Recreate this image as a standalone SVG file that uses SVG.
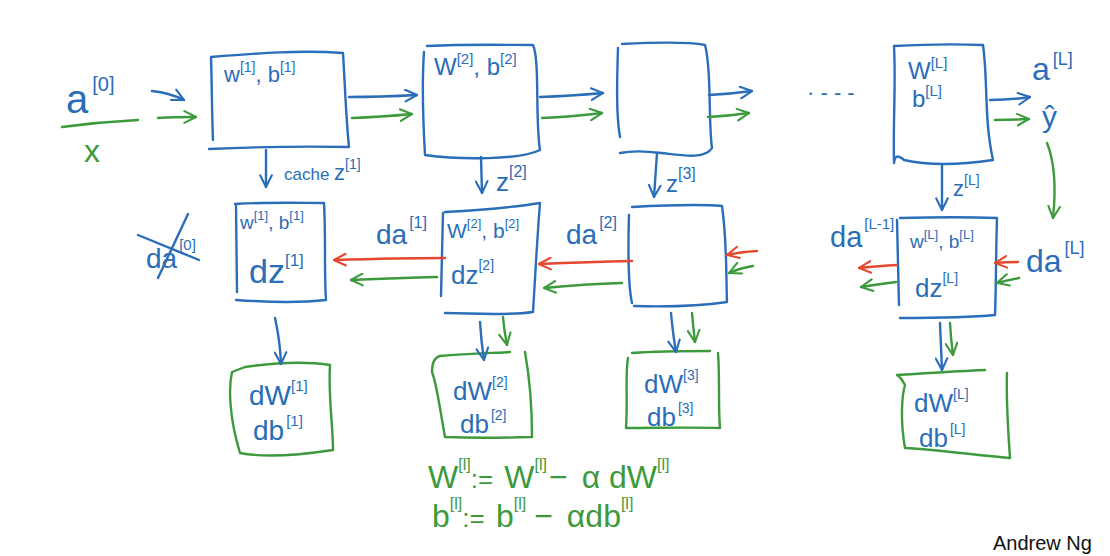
<svg xmlns="http://www.w3.org/2000/svg" width="1110" height="556" viewBox="0 0 1110 556">
<style>
.b{fill:none;stroke:#2a6db8;stroke-width:2.4;stroke-linecap:round;stroke-linejoin:round}
.g{fill:none;stroke:#3c9a3c;stroke-width:2.4;stroke-linecap:round;stroke-linejoin:round}
.r{fill:none;stroke:#e5482e;stroke-width:2.4;stroke-linecap:round;stroke-linejoin:round}
text{font-family:"Liberation Sans","DejaVu Sans",sans-serif}
.tb{fill:#2a6db8}
.tg{fill:#3c9a3c}
</style>
<defs>
<marker id="mb" viewBox="0 0 12 12" refX="11" refY="6" markerWidth="14" markerHeight="14" markerUnits="userSpaceOnUse" orient="auto"><path d="M1,1 L11,6 L1,11" fill="none" stroke="#2a6db8" stroke-width="1.8" stroke-linecap="round"/></marker>
<marker id="mg" viewBox="0 0 12 12" refX="11" refY="6" markerWidth="14" markerHeight="14" markerUnits="userSpaceOnUse" orient="auto"><path d="M1,1 L11,6 L1,11" fill="none" stroke="#3c9a3c" stroke-width="1.8" stroke-linecap="round"/></marker>
<marker id="mr" viewBox="0 0 12 12" refX="11" refY="6" markerWidth="14" markerHeight="14" markerUnits="userSpaceOnUse" orient="auto"><path d="M1,1 L11,6 L1,11" fill="none" stroke="#e5482e" stroke-width="1.8" stroke-linecap="round"/></marker>
</defs>
<rect width="1110" height="556" fill="#ffffff"/>

<!-- input -->
<g id="input">
<text x="66" y="113" class="tb" font-size="40">a<tspan font-size="20" dy="-22" dx="4">[0]</tspan></text>
<path class="g" d="M62,127 Q100,122 138,120"/>
<text x="84" y="162" class="tg" font-size="32">x</text>
</g>

<!-- forward layer 1 -->
<g id="fwd1">
<path class="b" d="M211,57 C260,53 300,50 343,53 C345,85 346,118 349,147 C300,146 255,147 209,149 M211,57 C212,90 212,120 213,140"/>
<text x="224" y="82" class="tb" font-size="22">w<tspan font-size="14" dy="-10">[1]</tspan><tspan dy="10">, b</tspan><tspan font-size="14" dy="-10">[1]</tspan></text>
</g>
<!-- forward layer 2 -->
<g id="fwd2">
<path class="b" d="M427,46 C470,44 510,45 533,45 C540,60 535,120 540,150 C520,160 460,160 425,155 C423,120 422,80 424,52"/>
<text x="434" y="75" class="tb" font-size="24">W<tspan font-size="15" dy="-11">[2]</tspan><tspan dy="11">, b</tspan><tspan font-size="15" dy="-11">[2]</tspan></text>
</g>
<!-- forward layer 3 -->
<g id="fwd3">
<path class="b" d="M622,44 C660,42 690,42 705,45 C712,70 708,120 712,148 C705,160 680,155 661,153 C645,151 630,151 620,153 M618,48 C617,80 616,115 620,137"/>
</g>
<!-- forward layer L -->
<g id="fwdL">
<path class="b" d="M894,46 C930,44 960,44 983,45 C988,80 984,120 993,160 C960,165 930,166 904,160 C898,155 895,155 894,163 C893,120 896,85 894,46"/>
<text x="908" y="79" class="tb" font-size="24">W<tspan font-size="15" dy="-11">[L]</tspan></text>
<text x="912" y="107" class="tb" font-size="24">b<tspan font-size="15" dy="-11">[L]</tspan></text>
</g>
<g id="out">
<text x="1032" y="80" class="tb" font-size="32">a<tspan font-size="18" dy="-15" dx="3">[L]</tspan></text>
<text x="1042" y="127" class="tb" font-size="30">ŷ</text>
<text x="807" y="100" class="tb" font-size="22">· - - -</text>
</g>

<!-- backward layer 1 -->
<g id="bwd1">
<path class="b" d="M235,204 C270,202 300,203 324,203 C326,240 324,270 326,300 C300,303 265,302 236,300 M236,204 L237,292"/>
<text x="240" y="229" class="tb" font-size="19">w<tspan font-size="13" dy="-9">[1]</tspan><tspan dy="9">, b</tspan><tspan font-size="13" dy="-9">[1]</tspan></text>
<text x="249" y="283" class="tb" font-size="34">dz<tspan font-size="17" dy="-17">[1]</tspan></text>
</g>
<g id="da0">
<text x="146" y="268" class="tb" font-size="28">da<tspan font-size="15" dy="-18" dx="2">[0]</tspan></text>
<path class="b" d="M138,235 L199,260 M158,278 L188,214"/>
</g>
<!-- backward layer 2 -->
<g id="bwd2">
<path class="b" d="M445,212 C480,210 510,208 540,203 C537,240 535,280 533,312 C505,316 470,313 445,313 M443,213 L441,296"/>
<text x="447" y="238" class="tb" font-size="21">W<tspan font-size="13" dy="-10">[2]</tspan><tspan dy="10">, b</tspan><tspan font-size="13" dy="-10">[2]</tspan></text>
<text x="451" y="284" class="tb" font-size="26">dz<tspan font-size="14" dy="-14">[2]</tspan></text>
</g>
<!-- backward layer 3 -->
<g id="bwd3">
<path class="b" d="M632,207 C670,205 700,204 722,206 C727,240 726,275 727,302 C700,306 665,307 634,306 M629,215 C628,250 628,285 632,303"/>
</g>
<!-- backward layer L -->
<g id="bwdL">
<path class="b" d="M900,218 C940,217 970,217 997,218 C996,250 996,290 995,315 C965,318 935,318 900,318 M897,220 L899,305"/>
<text x="910" y="248" class="tb" font-size="19">w<tspan font-size="13" dy="-9">[L]</tspan><tspan dy="9">, b</tspan><tspan font-size="13" dy="-9">[L]</tspan></text>
<text x="915" y="297" class="tb" font-size="26">dz<tspan font-size="14" dy="-14">[L]</tspan></text>
</g>
<g id="daL">
<text x="1026" y="272" class="tb" font-size="32">da<tspan font-size="18" dy="-18" dx="3">[L]</tspan></text>
<text x="830" y="247" class="tb" font-size="29">da<tspan font-size="15" dy="-18" dx="2">[L-1]</tspan></text>
</g>
<g id="dalabels">
<text x="376" y="244" class="tb" font-size="28">da<tspan font-size="16" dy="-16" dx="2">[1]</tspan></text>
<text x="566" y="244" class="tb" font-size="28">da<tspan font-size="16" dy="-16" dx="2">[2]</tspan></text>
</g>

<!-- gradient boxes -->
<g id="grad1">
<path class="g" d="M245,367 C280,362 310,362 330,365 C328,395 333,425 333,450 C300,455 265,458 240,453 C230,420 228,390 232,372 Z"/>
<text x="249" y="405" class="tb" font-size="28">dW<tspan font-size="15" dy="-14">[1]</tspan></text>
<text x="253" y="440" class="tb" font-size="28">db<tspan font-size="15" dy="-14" dx="2">[1]</tspan></text>
</g>
<g id="grad2">
<path class="g" d="M440,356 C470,353 500,353 510,352 M525,352 C530,380 532,410 532,437 C500,438 470,438 445,437 C440,410 437,385 432,372 Q432,358 440,356"/>
<text x="453" y="400" class="tb" font-size="26">dW<tspan font-size="14" dy="-13">[2]</tspan></text>
<text x="460" y="433" class="tb" font-size="26">db<tspan font-size="14" dy="-13" dx="2">[2]</tspan></text>
</g>
<g id="grad3">
<path class="g" d="M632,353 C660,351 690,351 710,351 M718,353 C720,380 718,405 720,428 C690,427 655,428 626,428 C628,400 625,375 628,358"/>
<text x="644" y="393" class="tb" font-size="26">dW<tspan font-size="14" dy="-13">[3]</tspan></text>
<text x="647" y="426" class="tb" font-size="26">db<tspan font-size="14" dy="-13" dx="2">[3]</tspan></text>
</g>
<g id="gradL">
<path class="g" d="M897,375 C930,373 960,371 985,370 M1007,373 C1006,400 1008,430 1010,458 C975,455 940,450 905,448 C900,420 902,395 905,385 Q900,376 897,375"/>
<text x="914" y="412" class="tb" font-size="26">dW<tspan font-size="14" dy="-13">[L]</tspan></text>
<text x="919" y="447" class="tb" font-size="26">db<tspan font-size="14" dy="-13" dx="2">[L]</tspan></text>
</g>

<g id="update">
<text x="428" y="488" class="tg" font-size="32">W<tspan font-size="16" dy="-18">[l]</tspan><tspan dy="18" font-size="26">:= </tspan><tspan dx="4">W</tspan><tspan font-size="16" dy="-18">[l]</tspan><tspan dy="18" dx="2">−</tspan><tspan dx="14">α dW</tspan><tspan font-size="16" dy="-18">[l]</tspan></text>
<text x="432" y="527" class="tg" font-size="32">b<tspan font-size="16" dy="-18">[l]</tspan><tspan dy="18" font-size="26">:= </tspan><tspan dx="4">b</tspan><tspan font-size="16" dy="-18">[l]</tspan><tspan dy="18" dx="8">−</tspan><tspan dx="14">αdb</tspan><tspan font-size="16" dy="-18">[l]</tspan></text>
</g>

<text x="993" y="550" font-size="20" fill="#111">Andrew Ng</text>

<g id="connectors">
<!-- forward -->
<path class="b" marker-end="url(#mb)" d="M152,91 Q170,93 184,100"/>
<path class="g" marker-end="url(#mg)" d="M158,118 Q175,117 196,117"/>
<path class="b" marker-end="url(#mb)" d="M349,97 Q380,97 417,95"/>
<path class="g" marker-end="url(#mg)" d="M352,118 Q380,117 412,114"/>
<path class="b" marker-end="url(#mb)" d="M540,97 Q570,96 603,93"/>
<path class="g" marker-end="url(#mg)" d="M542,118 Q570,117 602,113"/>
<path class="b" marker-end="url(#mb)" d="M709,95 Q730,94 752,91"/>
<path class="g" marker-end="url(#mg)" d="M708,117 Q728,116 749,113"/>
<path class="b" marker-end="url(#mb)" d="M990,100 Q1010,100 1030,97"/>
<path class="g" marker-end="url(#mg)" d="M995,120 Q1012,120 1029,119"/>
<path class="g" marker-end="url(#mg)" d="M1047,143 Q1058,170 1053,218"/>
<!-- cache -->
<path class="b" marker-end="url(#mb)" d="M266,150 L266,187"/>
<text x="284" y="180" class="tb" font-size="17">cache <tspan font-size="22">z</tspan><tspan font-size="14" dy="-11">[1]</tspan></text>
<path class="b" marker-end="url(#mb)" d="M481,157 L482,193"/>
<text x="496" y="191" class="tb" font-size="26">z<tspan font-size="16" dy="-14">[2]</tspan></text>
<path class="b" marker-end="url(#mb)" d="M657,153 L654,197"/>
<text x="666" y="192" class="tb" font-size="24">z<tspan font-size="16" dy="-13">[3]</tspan></text>
<path class="b" marker-end="url(#mb)" d="M942,165 L942,210"/>
<text x="953" y="196" class="tb" font-size="22">z<tspan font-size="14" dy="-11">[L]</tspan></text>
<!-- backward -->
<path class="r" marker-end="url(#mr)" d="M445,258 Q400,258 334,260"/>
<path class="g" marker-end="url(#mg)" d="M437,277 Q400,278 351,280"/>
<path class="r" marker-end="url(#mr)" d="M632,261 Q590,262 539,264"/>
<path class="g" marker-end="url(#mg)" d="M622,283 Q585,284 544,288"/>
<path class="r" marker-end="url(#mr)" d="M757,251 Q740,252 727,255"/>
<path class="g" marker-end="url(#mg)" d="M753,266 Q740,268 729,273"/>
<path class="r" marker-end="url(#mr)" d="M897,265 Q880,266 859,268"/>
<path class="g" marker-end="url(#mg)" d="M896,282 Q880,284 861,287"/>
<path class="r" marker-end="url(#mr)" d="M1018,262 Q1005,262 995,263"/>
<path class="g" marker-end="url(#mg)" d="M1019,278 Q1008,280 997,283"/>
<!-- gradients -->
<path class="b" marker-end="url(#mb)" d="M275,318 Q280,340 281,364"/>
<path class="b" marker-end="url(#mb)" d="M480,322 Q481,340 484,360"/>
<path class="g" marker-end="url(#mg)" d="M503,317 Q504,330 507,345"/>
<path class="b" marker-end="url(#mb)" d="M671,313 Q673,335 676,352"/>
<path class="g" marker-end="url(#mg)" d="M692,313 Q693,325 695,342"/>
<path class="b" marker-end="url(#mb)" d="M940,323 Q941,345 942,370"/>
<path class="g" marker-end="url(#mg)" d="M950,323 Q951,340 953,355"/>
</g>
</svg>
